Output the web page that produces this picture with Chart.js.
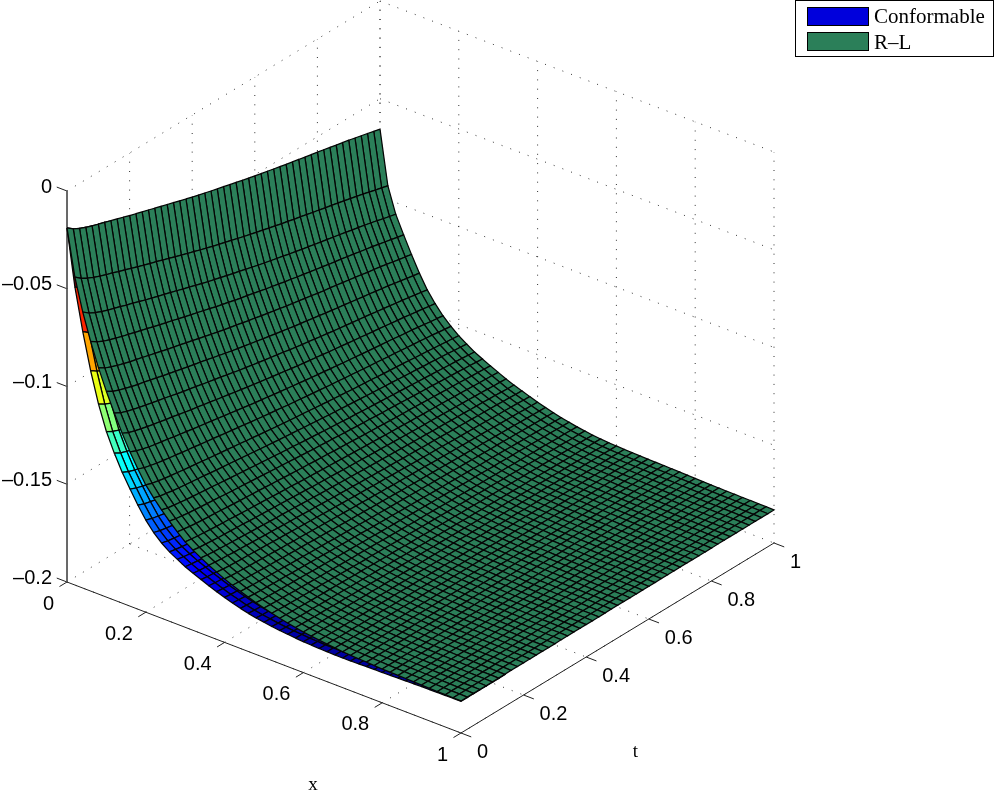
<!DOCTYPE html>
<html>
<head>
<meta charset="utf-8">
<title>Conformable vs R-L</title>
<script src="https://cdn.jsdelivr.net/npm/chart.js@4"></script>
<style>
body { margin: 0; background: #fff; }
canvas { display: block; }
</style>
</head>
<body>
<canvas id="chart" width="994" height="791"></canvas>
<script>
var seriesNames = ['Conformable', 'R\u2013L'];
var xValues = [0,.02,.04,.06,.08,.1,.12,.14,.16,.18,.2,.22,.24,.26,.28,.3,.32,.34,.36,.38,.4,.42,.44,.46,.48,.5,.52,.54,.56,.58,.6,.62,.64,.66,.68,.7,.72,.74,.76,.78,.8,.82,.84,.86,.88,.9,.92,.94,.96,.98,1];
var tValues = [0,.02,.04,.06,.08,.1,.12,.14,.16,.18,.2,.22,.24,.26,.28,.3,.32,.34,.36,.38,.4,.42,.44,.46,.48,.5,.52,.54,.56,.58,.6,.62,.64,.66,.68,.7,.72,.74,.76,.78,.8,.82,.84,.86,.88,.9,.92,.94,.96,.98,1];
var xTicks = [0, .2, .4, .6, .8, 1];
var tTicks = [0, .2, .4, .6, .8, 1];
var zTicks = [0, -.05, -.1, -.15, -.2];
var xTickLabels = ['0', '0.2', '0.4', '0.6', '0.8', '1'];
var tTickLabels = ['0', '0.2', '0.4', '0.6', '0.8', '1'];
var zTickLabels = ['0', '\u20130.05', '\u20130.1', '\u20130.15', '\u20130.2'];

// surface depth, z = -value / 10000, one row per x, one column per t
var rlDepth = [
[189,213,230,244,256,267,277,288,298,309,320,330,340,350,360,370,380,390,400,410,420,429,438,447,456,464,473,481,490,498,506,514,521,529,536,544,551,558,565,572,579,586,593,601,608,615,623,631,639,647,655],
[425,451,469,485,498,510,520,533,543,555,567,578,589,599,610,621,632,643,654,664,675,685,695,705,714,723,733,742,751,760,768,777,785,794,801,810,817,825,833,840,848,855,863,871,879,887,895,904,913,921,930],
[588,613,630,644,656,667,677,689,698,710,721,731,741,751,761,771,782,791,802,812,822,831,840,849,858,866,875,884,893,901,909,917,924,933,940,948,955,962,969,976,983,990,997,1005,1012,1019,1027,1035,1044,1052,1060],
[723,745,761,773,784,795,804,814,823,833,843,852,861,870,880,889,898,907,916,925,935,943,951,960,968,975,983,991,999,1006,1013,1021,1027,1035,1041,1048,1055,1061,1068,1074,1080,1087,1093,1100,1107,1113,1121,1128,1135,1143,1150],
[843,863,877,889,899,909,917,926,935,944,953,962,970,978,987,995,1004,1012,1021,1029,1037,1045,1052,1060,1068,1074,1082,1089,1096,1103,1110,1116,1122,1129,1135,1142,1148,1153,1159,1165,1171,1177,1183,1190,1195,1201,1208,1215,1222,1228,1235],
[948,967,980,991,1001,1010,1017,1026,1034,1043,1051,1059,1067,1075,1083,1090,1098,1106,1114,1122,1130,1137,1144,1151,1158,1165,1172,1178,1185,1191,1198,1204,1209,1216,1221,1228,1233,1239,1244,1250,1255,1261,1266,1272,1278,1283,1290,1296,1303,1309,1315],
[1043,1061,1073,1083,1092,1100,1108,1116,1123,1131,1139,1147,1154,1161,1169,1176,1183,1190,1198,1205,1213,1219,1226,1232,1239,1245,1251,1257,1264,1270,1276,1281,1287,1293,1298,1304,1309,1314,1319,1324,1329,1334,1340,1345,1350,1356,1361,1367,1373,1379,1385],
[1131,1147,1158,1167,1175,1183,1189,1197,1203,1211,1218,1225,1231,1238,1244,1251,1258,1264,1271,1277,1284,1290,1296,1302,1308,1313,1319,1325,1331,1336,1341,1346,1351,1357,1361,1366,1371,1376,1380,1385,1390,1394,1399,1404,1409,1413,1419,1424,1429,1435,1440],
[1211,1225,1235,1244,1251,1257,1263,1270,1276,1282,1289,1295,1300,1306,1312,1318,1324,1330,1336,1342,1348,1353,1358,1364,1369,1374,1379,1384,1389,1394,1399,1403,1408,1412,1417,1421,1425,1430,1434,1438,1442,1446,1450,1455,1459,1463,1468,1473,1478,1482,1487],
[1283,1296,1304,1312,1318,1324,1329,1335,1340,1345,1351,1356,1361,1366,1372,1377,1382,1387,1393,1398,1403,1408,1412,1417,1422,1426,1430,1435,1439,1443,1448,1452,1455,1460,1463,1467,1471,1475,1478,1482,1486,1489,1493,1497,1501,1504,1508,1512,1517,1521,1525],
[1349,1360,1367,1374,1379,1384,1389,1394,1398,1403,1408,1412,1417,1421,1426,1430,1435,1439,1444,1448,1453,1457,1461,1465,1469,1472,1476,1480,1484,1488,1491,1495,1498,1502,1505,1508,1511,1515,1518,1521,1524,1527,1530,1534,1537,1540,1544,1547,1551,1554,1558],
[1400,1410,1416,1422,1427,1431,1435,1439,1443,1448,1452,1456,1460,1464,1468,1472,1476,1480,1484,1488,1492,1495,1499,1502,1506,1509,1513,1516,1520,1523,1526,1529,1532,1535,1538,1541,1544,1547,1549,1552,1555,1558,1560,1564,1566,1569,1572,1575,1579,1582,1585],
[1446,1455,1460,1465,1470,1474,1477,1481,1484,1488,1492,1496,1499,1503,1506,1510,1513,1517,1520,1524,1527,1530,1534,1537,1540,1543,1546,1549,1552,1555,1558,1560,1563,1566,1568,1571,1573,1576,1578,1581,1583,1586,1588,1591,1593,1596,1599,1601,1604,1607,1610],
[1488,1495,1500,1505,1508,1512,1515,1518,1521,1525,1528,1531,1534,1537,1540,1543,1546,1549,1552,1555,1558,1561,1564,1567,1569,1572,1574,1577,1580,1582,1585,1587,1589,1592,1594,1596,1598,1600,1603,1605,1607,1609,1611,1614,1616,1618,1620,1623,1625,1628,1630],
[1527,1533,1538,1542,1545,1548,1550,1553,1556,1559,1562,1564,1567,1569,1572,1575,1577,1580,1583,1585,1588,1590,1593,1595,1597,1600,1602,1604,1606,1609,1611,1613,1615,1617,1619,1621,1623,1624,1626,1628,1630,1632,1634,1636,1638,1639,1642,1644,1646,1648,1650],
[1563,1568,1572,1575,1578,1581,1583,1585,1588,1590,1593,1595,1597,1599,1602,1604,1606,1608,1611,1613,1615,1617,1619,1621,1623,1625,1627,1629,1631,1633,1634,1636,1638,1640,1641,1643,1645,1646,1648,1649,1651,1652,1654,1656,1657,1659,1661,1663,1664,1666,1668],
[1590,1595,1598,1601,1604,1606,1608,1610,1612,1615,1617,1619,1621,1623,1625,1627,1629,1631,1633,1636,1638,1639,1641,1643,1645,1647,1648,1650,1652,1654,1655,1657,1658,1660,1662,1663,1665,1666,1667,1669,1670,1672,1673,1675,1676,1678,1679,1681,1683,1684,1686],
[1614,1619,1622,1624,1627,1629,1631,1633,1635,1637,1639,1641,1643,1644,1646,1648,1650,1652,1654,1656,1658,1659,1661,1663,1664,1666,1668,1669,1671,1672,1674,1675,1677,1678,1680,1681,1682,1684,1685,1686,1688,1689,1690,1692,1693,1694,1696,1697,1699,1701,1702],
[1636,1640,1643,1645,1648,1649,1651,1653,1655,1657,1658,1660,1662,1664,1665,1667,1669,1670,1672,1674,1676,1677,1679,1680,1682,1683,1685,1686,1688,1689,1690,1692,1693,1694,1696,1697,1698,1699,1701,1702,1703,1704,1705,1707,1708,1709,1710,1712,1713,1715,1716],
[1656,1660,1663,1665,1667,1668,1670,1672,1673,1675,1677,1678,1680,1682,1683,1685,1686,1688,1690,1691,1693,1694,1696,1697,1698,1700,1701,1702,1704,1705,1706,1708,1709,1710,1711,1712,1713,1715,1716,1717,1718,1719,1720,1721,1723,1724,1725,1726,1727,1729,1730],
[1675,1679,1681,1683,1685,1686,1688,1689,1691,1693,1694,1696,1697,1698,1700,1701,1703,1704,1706,1707,1709,1710,1711,1713,1714,1715,1716,1718,1719,1720,1721,1722,1723,1725,1726,1727,1728,1729,1730,1731,1732,1733,1734,1735,1736,1737,1738,1739,1741,1742,1743],
[1692,1695,1698,1699,1701,1703,1704,1705,1707,1708,1710,1711,1712,1714,1715,1716,1718,1719,1721,1722,1723,1724,1726,1727,1728,1729,1730,1732,1733,1734,1735,1736,1737,1738,1739,1740,1741,1742,1743,1744,1745,1746,1747,1748,1749,1750,1751,1752,1753,1754,1755],
[1708,1711,1713,1715,1716,1718,1719,1720,1722,1723,1724,1726,1727,1728,1729,1731,1732,1733,1734,1735,1737,1738,1739,1740,1741,1742,1743,1744,1745,1746,1747,1748,1749,1750,1751,1752,1753,1754,1755,1756,1757,1757,1758,1759,1760,1761,1762,1763,1764,1765,1766],
[1722,1725,1727,1728,1730,1731,1732,1734,1735,1736,1737,1738,1739,1741,1742,1743,1744,1745,1746,1748,1749,1750,1751,1752,1753,1754,1755,1756,1757,1758,1759,1760,1760,1761,1762,1763,1764,1765,1766,1766,1767,1768,1769,1770,1771,1771,1772,1773,1774,1775,1776],
[1735,1738,1739,1741,1742,1743,1744,1745,1746,1748,1749,1750,1751,1752,1753,1754,1755,1756,1757,1758,1759,1760,1761,1762,1763,1764,1765,1766,1767,1767,1768,1769,1770,1771,1772,1772,1773,1774,1775,1775,1776,1777,1777,1778,1779,1780,1781,1781,1782,1783,1784],
[1747,1749,1751,1752,1753,1755,1756,1757,1758,1759,1760,1761,1762,1763,1764,1764,1765,1766,1767,1768,1769,1770,1771,1772,1773,1774,1774,1775,1776,1777,1778,1778,1779,1780,1781,1781,1782,1783,1783,1784,1785,1785,1786,1787,1787,1788,1789,1790,1790,1791,1792],
[1758,1760,1762,1763,1764,1765,1766,1767,1767,1768,1769,1770,1771,1772,1773,1774,1774,1775,1776,1777,1778,1779,1779,1780,1781,1782,1782,1783,1784,1785,1785,1786,1786,1787,1788,1788,1789,1790,1790,1791,1791,1792,1793,1793,1794,1795,1795,1796,1797,1797,1798],
[1768,1770,1771,1772,1773,1774,1775,1776,1776,1777,1778,1779,1780,1780,1781,1782,1783,1784,1784,1785,1786,1787,1787,1788,1789,1789,1790,1791,1791,1792,1792,1793,1794,1794,1795,1795,1796,1797,1797,1798,1798,1799,1799,1800,1800,1801,1802,1802,1803,1803,1804],
[1777,1779,1780,1781,1781,1782,1783,1784,1784,1785,1786,1786,1787,1788,1788,1789,1790,1790,1791,1792,1792,1793,1794,1794,1795,1795,1796,1796,1797,1798,1798,1799,1799,1800,1800,1801,1801,1802,1802,1802,1803,1803,1804,1804,1805,1805,1806,1806,1807,1807,1808],
[1785,1786,1787,1788,1789,1789,1790,1791,1791,1792,1792,1793,1793,1794,1795,1795,1796,1796,1797,1797,1798,1798,1799,1799,1800,1800,1801,1801,1802,1802,1803,1803,1804,1804,1804,1805,1805,1806,1806,1806,1807,1807,1808,1808,1808,1809,1809,1810,1810,1811,1811],
[1792,1793,1794,1794,1795,1796,1796,1796,1797,1797,1798,1798,1799,1799,1800,1800,1801,1801,1802,1802,1802,1803,1803,1804,1804,1804,1805,1805,1806,1806,1806,1807,1807,1807,1808,1808,1808,1809,1809,1809,1810,1810,1810,1811,1811,1811,1812,1812,1812,1813,1813],
[1798,1799,1799,1800,1800,1801,1801,1802,1802,1802,1803,1803,1804,1804,1804,1805,1805,1805,1806,1806,1806,1807,1807,1807,1808,1808,1808,1809,1809,1809,1810,1810,1810,1810,1811,1811,1811,1811,1812,1812,1812,1812,1813,1813,1813,1814,1814,1814,1814,1815,1815],
[1803,1804,1804,1805,1805,1805,1805,1806,1806,1806,1807,1807,1807,1807,1808,1808,1808,1809,1809,1809,1809,1810,1810,1810,1810,1811,1811,1811,1811,1812,1812,1812,1812,1812,1813,1813,1813,1813,1813,1814,1814,1814,1814,1814,1815,1815,1815,1815,1816,1816,1816],
[1808,1808,1809,1809,1809,1810,1810,1810,1810,1810,1811,1811,1811,1811,1811,1811,1812,1812,1812,1812,1812,1813,1813,1813,1813,1813,1813,1814,1814,1814,1814,1814,1814,1815,1815,1815,1815,1815,1815,1815,1816,1816,1816,1816,1816,1816,1816,1817,1817,1817,1817],
[1812,1812,1813,1813,1813,1813,1813,1813,1813,1814,1814,1814,1814,1814,1814,1814,1814,1815,1815,1815,1815,1815,1815,1815,1815,1815,1816,1816,1816,1816,1816,1816,1816,1816,1816,1816,1817,1817,1817,1817,1817,1817,1817,1817,1817,1817,1818,1818,1818,1818,1818],
[1816,1816,1816,1816,1816,1817,1817,1817,1817,1817,1817,1817,1817,1817,1817,1817,1817,1817,1817,1817,1817,1818,1818,1818,1818,1818,1818,1818,1818,1818,1818,1818,1818,1818,1818,1818,1818,1818,1818,1818,1818,1819,1819,1819,1819,1819,1819,1819,1819,1819,1819],
[1819,1819,1819,1819,1819,1819,1819,1819,1819,1819,1819,1819,1819,1819,1819,1819,1819,1819,1819,1819,1819,1819,1819,1819,1819,1820,1820,1820,1820,1820,1820,1820,1820,1820,1820,1820,1820,1820,1820,1820,1820,1820,1820,1820,1820,1820,1820,1820,1820,1820,1820],
[1821,1821,1821,1821,1821,1821,1821,1821,1821,1821,1821,1821,1821,1821,1821,1821,1821,1821,1821,1821,1821,1821,1821,1821,1821,1821,1821,1821,1821,1821,1821,1821,1821,1821,1821,1821,1821,1821,1821,1821,1821,1821,1821,1821,1821,1821,1821,1821,1821,1821,1821],
[1823,1823,1823,1823,1823,1823,1823,1823,1823,1823,1823,1823,1823,1823,1823,1823,1823,1823,1823,1823,1823,1823,1823,1823,1823,1822,1822,1822,1822,1822,1822,1822,1822,1822,1822,1822,1822,1822,1822,1822,1822,1822,1822,1822,1822,1822,1822,1822,1822,1822,1822],
[1825,1825,1825,1825,1825,1825,1825,1825,1825,1825,1825,1825,1825,1825,1825,1825,1825,1824,1824,1824,1824,1824,1824,1824,1824,1824,1824,1824,1824,1824,1824,1824,1824,1824,1823,1823,1823,1823,1823,1823,1823,1823,1823,1823,1823,1823,1823,1823,1823,1823,1823],
[1827,1827,1827,1827,1827,1827,1827,1827,1827,1827,1827,1827,1827,1826,1826,1826,1826,1826,1826,1826,1826,1826,1826,1826,1826,1826,1825,1825,1825,1825,1825,1825,1825,1825,1825,1825,1825,1825,1825,1824,1824,1824,1824,1824,1824,1824,1824,1824,1824,1824,1824],
[1828,1828,1828,1828,1828,1828,1828,1828,1828,1828,1828,1828,1828,1827,1827,1827,1827,1827,1827,1827,1827,1827,1827,1827,1827,1827,1826,1826,1826,1826,1826,1826,1826,1826,1826,1826,1826,1826,1826,1825,1825,1825,1825,1825,1825,1825,1825,1825,1825,1825,1825],
[1829,1829,1829,1829,1829,1829,1829,1829,1829,1829,1829,1829,1829,1828,1828,1828,1828,1828,1828,1828,1828,1828,1828,1828,1828,1828,1827,1827,1827,1827,1827,1827,1827,1827,1827,1827,1827,1827,1827,1826,1826,1826,1826,1826,1826,1826,1826,1826,1826,1826,1826],
[1830,1830,1830,1830,1830,1830,1830,1830,1830,1830,1830,1830,1830,1829,1829,1829,1829,1829,1829,1829,1829,1829,1829,1829,1829,1829,1828,1828,1828,1828,1828,1828,1828,1828,1828,1828,1828,1828,1828,1827,1827,1827,1827,1827,1827,1827,1827,1827,1827,1827,1827],
[1831,1831,1831,1831,1831,1831,1831,1831,1831,1831,1831,1831,1831,1830,1830,1830,1830,1830,1830,1830,1830,1830,1830,1830,1830,1830,1829,1829,1829,1829,1829,1829,1829,1829,1829,1829,1829,1829,1829,1828,1828,1828,1828,1828,1828,1828,1828,1828,1828,1828,1828],
[1832,1832,1832,1832,1832,1832,1832,1832,1832,1832,1831,1831,1831,1831,1831,1831,1831,1831,1831,1831,1830,1830,1830,1830,1830,1830,1830,1830,1830,1830,1829,1829,1829,1829,1829,1829,1829,1829,1829,1829,1828,1828,1828,1828,1828,1828,1828,1828,1828,1828,1828],
[1833,1833,1833,1833,1833,1833,1833,1833,1833,1833,1832,1832,1832,1832,1832,1832,1832,1832,1832,1832,1831,1831,1831,1831,1831,1831,1831,1831,1831,1831,1830,1830,1830,1830,1830,1830,1830,1830,1830,1830,1829,1829,1829,1829,1829,1829,1829,1829,1829,1829,1829],
[1834,1834,1834,1834,1834,1834,1834,1834,1833,1833,1833,1833,1833,1833,1833,1833,1832,1832,1832,1832,1832,1832,1832,1832,1831,1831,1831,1831,1831,1831,1831,1831,1830,1830,1830,1830,1830,1830,1830,1830,1830,1829,1829,1829,1829,1829,1829,1829,1829,1829,1829],
[1835,1835,1835,1835,1835,1835,1835,1835,1834,1834,1834,1834,1834,1834,1834,1834,1833,1833,1833,1833,1833,1833,1833,1833,1832,1832,1832,1832,1832,1832,1832,1832,1831,1831,1831,1831,1831,1831,1831,1831,1831,1830,1830,1830,1830,1830,1830,1830,1830,1830,1830],
[1835,1835,1835,1835,1835,1835,1835,1835,1834,1834,1834,1834,1834,1834,1834,1834,1833,1833,1833,1833,1833,1833,1833,1833,1832,1832,1832,1832,1832,1832,1832,1832,1831,1831,1831,1831,1831,1831,1831,1831,1831,1830,1830,1830,1830,1830,1830,1830,1830,1830,1830],
[1836,1836,1836,1836,1836,1836,1836,1836,1835,1835,1835,1835,1835,1835,1835,1835,1834,1834,1834,1834,1834,1834,1834,1834,1833,1833,1833,1833,1833,1833,1833,1833,1832,1832,1832,1832,1832,1832,1832,1832,1832,1831,1831,1831,1831,1831,1831,1831,1831,1831,1831]
];

// only the strip next to t = 0 shows, the rest sits behind the R-L surface
var conformableDepth = [
[189,213,230,244,256,267,277,288],
[475,501,519,535,548,560,570,583],
[688,713,730,744,756,767,777,789],
[873,895,911,923,934,945,954,964],
[1028,1048,1062,1074,1084,1094,1102,1111],
[1153,1172,1185,1196,1206,1215,1222,1231],
[1248,1266,1278,1288,1297,1305,1313,1321],
[1331,1347,1358,1367,1375,1383,1389,1397],
[1401,1415,1425,1434,1441,1447,1453,1460],
[1468,1481,1489,1497,1503,1509,1514,1520],
[1529,1540,1547,1554,1559,1564,1569,1574],
[1577,1587,1593,1599,1604,1608,1612,1616],
[1615,1624,1629,1634,1639,1643,1646,1650],
[1645,1652,1657,1662,1665,1669,1672,1675],
[1668,1674,1679,1683,1686,1689,1691,1694],
[1690,1695,1699,1702,1705,1708,1710,1712],
[1708,1713,1716,1719,1722,1724,1726,1728],
[1725,1730,1733,1735,1738,1740,1742,1744],
[1741,1745,1748,1750,1753,1754,1756,1758],
[1756,1760,1763,1765,1767,1768,1770,1772],
[1770,1774,1776,1778,1780,1781,1783,1784],
[1783,1786,1789,1790,1792,1794,1795,1796],
[1795,1798,1800,1802,1803,1805,1806,1807],
[1805,1808,1810,1811,1813,1814,1815,1817],
[1813,1816,1817,1819,1820,1821,1822,1823],
[1820,1822,1824,1825,1826,1828,1829,1830],
[1826,1828,1830,1831,1832,1833,1834,1835],
[1831,1833,1834,1835,1836,1837,1838,1839],
[1835,1837,1838,1839,1839,1840,1841,1842],
[1839,1840,1841,1842,1843,1843,1844,1845],
[1842,1843,1844,1844,1845,1846,1846,1846],
[1844,1845,1845,1846,1846,1847,1847,1848],
[1846,1847,1847,1848,1848,1848,1848,1849],
[1847,1847,1848,1848,1848,1849,1849,1849],
[1848,1848,1849,1849,1849,1849,1849,1849],
[1848,1848,1848,1848,1848,1848,1848,1848],
[1848,1848,1848,1848,1848,1848,1848,1848],
[1847,1847,1847,1847,1847,1847,1847,1847],
[1846,1846,1846,1846,1846,1846,1846,1846],
[1845,1845,1845,1845,1845,1845,1845,1845],
[1845,1845,1845,1845,1845,1845,1845,1845],
[1844,1844,1844,1844,1844,1844,1844,1844],
[1843,1843,1843,1843,1843,1843,1843,1843],
[1842,1842,1842,1842,1842,1842,1842,1842],
[1841,1841,1841,1841,1841,1841,1841,1841],
[1840,1840,1840,1840,1840,1840,1840,1840],
[1840,1840,1840,1840,1840,1840,1840,1840],
[1839,1839,1839,1839,1839,1839,1839,1839],
[1839,1839,1839,1839,1839,1839,1839,1839],
[1838,1838,1838,1838,1838,1838,1838,1838],
[1838,1838,1838,1838,1838,1838,1838,1838]
];

var rlColor = '#2b7f59';
var legendBlue = '#0000dc';

// orthographic view of the box, in canvas units
function project(x, t, z) {
    return { x: 67 + 394 * x + 313 * t, y: 582 + 151 * x - 190 * t - 1955 * (z + .2) };
}

function jet(c) {
    function band(v) { return Math.round(255 * Math.max(0, Math.min(1, v))); }
    return 'rgb(' + band(1.5 - Math.abs(4 * c - 3)) + ',' + band(1.5 - Math.abs(4 * c - 2)) + ',' + band(1.5 - Math.abs(4 * c - 1)) + ')';
}

function cellDataset(depth, i, j, fillColor) {
    var corners = [[i, j], [i + 1, j], [i + 1, j + 1], [i, j + 1], [i, j]];
    return {
        data: corners.map(function(c) { return project(xValues[c[0]], tValues[c[1]], -depth[c[0]][c[1]] / 10000); }),
        cellFill: fillColor,
        showLine: true,
        borderColor: '#050505',
        borderWidth: 1.25,
        pointRadius: 0
    };
}

function lineDataset(a, b, color, dash) {
    return {
        data: [project(a[0], a[1], a[2]), project(b[0], b[1], b[2])],
        showLine: true,
        borderColor: color,
        borderWidth: 1,
        borderDash: dash,
        pointRadius: 0
    };
}

var datasets = [];
// Chart.js paints the first dataset last, so the nearest cells go first
for (var j = 0; j < tValues.length - 1; j++) {
    for (var i = xValues.length - 2; i >= 0; i--) {
        datasets.push(cellDataset(rlDepth, i, j, rlColor));
    }
}
for (var j = 0; j < conformableDepth[0].length - 1; j++) {
    for (var i = xValues.length - 2; i >= 0; i--) {
        var c = ((-conformableDepth[i][j] / 10000) + .19) / .17;
        datasets.push(cellDataset(conformableDepth, i, j, jet(c)));
    }
}

// axes
var axisColor = '#222';
datasets.push(lineDataset([0, 0, 0], [0, 0, -.2], '#555'));
datasets.push(lineDataset([0, 0, -.2], [1, 0, -.2], axisColor));
datasets.push(lineDataset([1, 0, -.2], [1, 1, -.2], axisColor));
xTicks.forEach(function(v) { datasets.push(lineDataset([v, 0, -.2], [v, -.024, -.2], axisColor)); });
tTicks.forEach(function(v) { datasets.push(lineDataset([1, v, -.2], [1.026, v, -.2], axisColor)); });
zTicks.forEach(function(v) { datasets.push(lineDataset([0, 0, v], [-.026, 0, v], axisColor)); });

// dotted grid on the three back planes
var gridDash = [1, 8.3];
xTicks.forEach(function(v) {
    if (v > 0) datasets.push(lineDataset([v, 0, -.2], [v, 1, -.2], '#333', gridDash));
    datasets.push(lineDataset([v, 1, -.2], [v, 1, 0], '#333', gridDash));
});
tTicks.forEach(function(v) {
    if (v < 1) datasets.push(lineDataset([0, v, -.2], [1, v, -.2], '#333', gridDash));
    if (v > 0) datasets.push(lineDataset([0, v, -.2], [0, v, 0], '#333', gridDash));
});
zTicks.forEach(function(v) {
    datasets.push(lineDataset([0, 0, v], [0, 1, v], '#333', gridDash));
    datasets.push(lineDataset([0, 1, v], [1, 1, v], '#333', gridDash));
});

var cellFillPlugin = {
    id: 'cellFill',
    beforeDatasetDraw: function(chart, args) {
        var ds = chart.data.datasets[args.index];
        if (!ds.cellFill) return;
        var pts = args.meta.data;
        var ctx = chart.ctx;
        ctx.save();
        ctx.beginPath();
        pts.forEach(function(p, k) { if (k) ctx.lineTo(p.x, p.y); else ctx.moveTo(p.x, p.y); });
        ctx.closePath();
        ctx.fillStyle = ds.cellFill;
        ctx.fill();
        ctx.restore();
    }
};

var textPlugin = {
    id: 'boxText',
    afterDraw: function(chart) {
        var ctx = chart.ctx;
        var sx = chart.scales.x, sy = chart.scales.y;
        function label(text, p, dx, dy, align, font) {
            ctx.textAlign = align;
            ctx.textBaseline = 'middle';
            ctx.font = font;
            ctx.fillStyle = '#000';
            ctx.fillText(text, sx.getPixelForValue(p.x) + dx, sy.getPixelForValue(p.y) + dy);
        }
        ctx.save();
        var tickFont = '20px "Liberation Sans"';
        var nameFont = '21px "Liberation Serif"';
        xTicks.forEach(function(v, k) { label(xTickLabels[k], project(v, 0, -.2), -13, 22, 'right', tickFont); });
        tTicks.forEach(function(v, k) { label(tTickLabels[k], project(1, v, -.2), 16, 19, 'left', tickFont); });
        zTicks.forEach(function(v, k) { label(zTickLabels[k], project(0, 0, v), -15, -4, 'right', tickFont); });
        label('x', project(.903, -.351, -.2), 0, 0, 'center', '19px "Liberation Serif"');
        label('t', project(1.32, .154, -.2), 0, 0, 'center', '19px "Liberation Serif"');

        // legend box
        ctx.fillStyle = '#fff';
        ctx.fillRect(795.5, .5, 198, 56);
        ctx.strokeStyle = '#000';
        ctx.lineWidth = 1;
        ctx.strokeRect(795.5, .5, 198, 56);
        ctx.fillStyle = legendBlue;
        ctx.fillRect(807.5, 7.5, 61, 18);
        ctx.strokeRect(807.5, 7.5, 61, 18);
        ctx.fillStyle = rlColor;
        ctx.fillRect(807.5, 32.5, 61, 18);
        ctx.strokeRect(807.5, 32.5, 61, 18);
        ctx.textAlign = 'left';
        ctx.textBaseline = 'middle';
        ctx.font = nameFont;
        ctx.fillStyle = '#000';
        ctx.fillText(seriesNames[0], 874, 17);
        ctx.fillText(seriesNames[1], 874, 43);
        ctx.restore();
    }
};

new Chart(document.getElementById('chart').getContext('2d'), {
    type: 'scatter',
    data: { datasets: datasets },
    plugins: [cellFillPlugin, textPlugin],
    options: {
        responsive: false,
        animation: false,
        layout: { padding: 0 },
        plugins: { legend: { display: false }, tooltip: { enabled: false } },
        scales: {
            x: { display: false, min: 0, max: 994 },
            y: { display: false, min: 0, max: 791, reverse: true }
        }
    }
});
</script>
</body>
</html>
